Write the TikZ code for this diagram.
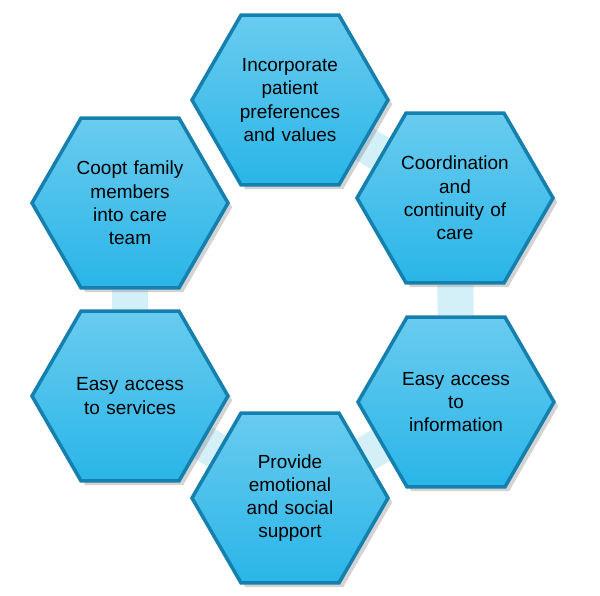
\documentclass[tikz,border=0pt]{standalone}
\usepackage{fontspec}
\setmainfont{Liberation Sans}
\usetikzlibrary{shapes.geometric,backgrounds,shadows}
\definecolor{hexfill}{HTML}{29B5E8}
\definecolor{hexedge}{HTML}{1580AE}
\definecolor{linkfill}{HTML}{D3F0F8}
\begin{document}
\begin{tikzpicture}[x=0.025cm,y=-0.025cm]
      \tikzset{hexa/.style={regular polygon, regular polygon sides=6, minimum size=4.35cm,
               draw=hexedge, line width=2.5pt, top color=hexfill!70!white, bottom color=hexfill,
               drop shadow={opacity=0.35, shadow xshift=3pt, shadow yshift=-3pt},
               text width=3cm, align=center, font=\fontsize{13.5}{16.5}\selectfont, inner sep=0pt},
               link/.style={line width=0.9cm, draw=linkfill}}
      \useasboundingbox (0,0) rectangle (600,596);
%% Hexagons
      	\node[hexa] (h1) at (290,100) {Incorporate\\ patient\\ preferences\\ and values};
      	\node[hexa] (h2) at (455,198) {Coordination\\ and\\ continuity of\\ care};
      	\node[hexa] (h3) at (456,402) {Easy access\\ to\\ information};
      	\node[hexa] (h4) at (290,498) {Provide\\ emotional\\ and social\\ support};
      	\node[hexa] (h5) at (130,396) {Easy access\\ to services};
      	\node[hexa] (h6) at (130,203) {Coopt family\\ members\\ into care\\ team};
%Links
      \begin{pgfonlayer}{background}
		\draw[link] (h1) -- (h2);
		\draw[link] (h2) -- (h3);
		\draw[link] (h3) -- (h4);
		\draw[link] (h4) -- (h5);
		\draw[link] (h5) -- (h6);
      \end{pgfonlayer}
	\end{tikzpicture}
\end{document}
